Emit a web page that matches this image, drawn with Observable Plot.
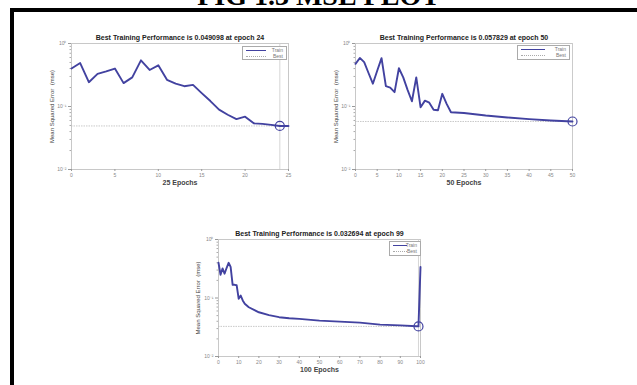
<!DOCTYPE html>
<html><head><meta charset="utf-8">
<script src="https://cdn.jsdelivr.net/npm/d3@7"></script>
<script src="https://cdn.jsdelivr.net/npm/@observablehq/plot@0.6"></script>
<style>
body{margin:0;width:637px;height:385px;overflow:hidden;background:#fff;position:relative;font-family:Arial,"Liberation Sans",sans-serif}
#frame{position:absolute;left:10px;top:8px;width:700px;height:500px;border:4px solid #000;box-sizing:border-box}
#figtitle{position:absolute;left:0;width:637px;text-align:center;top:-18px;font:bold 28px "Liberation Serif",serif;line-height:1;color:#000}
.panel{position:absolute}
.legend{position:absolute;border:1px solid #aaa;background:#fff;font:5px Arial,sans-serif;color:#777;box-sizing:border-box}
.legend div{position:relative;height:6px;line-height:6px;text-align:right;padding-right:3px}
.legend span{position:absolute;left:3px;top:3px;width:22px}
</style></head><body>
<div id="figtitle">FIG 1.3 MSE PLOT</div>
<div id="frame"></div>
<script>
// ---- data ----
const epochs25 = [0,1,2,3,4,5,6,7,8,9,10,11,12,13,14,15,16,17,18,19,20,21,22,23,24,25];
const mse25 = [0.40,0.49,0.243,0.33,0.36,0.40,0.235,0.29,0.54,0.38,0.45,0.265,0.23,0.21,0.22,0.163,0.122,0.089,0.074,0.063,0.069,0.054,0.053,0.051,0.049098,0.049];
const epochs50 = [0,1,2,3,4,5,6,7,8,9,10,11,12,13,14,15,16,17,18,19,20,21,22,25,30,35,40,45,50];
const mse50 = [0.475,0.59,0.505,0.34,0.23,0.37,0.585,0.21,0.20,0.169,0.405,0.29,0.184,0.121,0.29,0.097,0.124,0.115,0.089,0.087,0.159,0.11,0.081,0.079,0.072,0.067,0.063,0.060,0.057829];
const epochs100 = [0,1,2,3,4,5,6,7,8,9,10,11,12,13,15,20,25,30,35,40,50,60,70,80,90,98,99,100];
const mse100 = [0.40,0.25,0.32,0.26,0.325,0.40,0.34,0.168,0.168,0.165,0.097,0.11,0.091,0.08,0.0695,0.057,0.051,0.047,0.045,0.044,0.041,0.0395,0.038,0.035,0.034,0.0328,0.032694,0.34];
const titles = ["Best Training Performance is 0.049098 at epoch 24","Best Training Performance is 0.057829 at epoch 50","Best Training Performance is 0.032694 at epoch 99"];
const xLabels = ["25 Epochs","50 Epochs","100 Epochs"];
const bestEpochs = [24,50,99];
const bestValues = [0.049098,0.057829,0.032694];
const xMax = [25,50,100];
const xTickSteps = [5,5,10];
const yTicks = [0.01,0.1,1];
const yTickLabels = ["10\u207B\u00B2","10\u207B\u00B9","10\u2070"];
const yLabel = "Mean Squared Error  (mse)";
const legendLabels = ["Train","Best"];

const blue = "#4242a0";
const panels = [
  {e:epochs25,v:mse25,left:20,top:25,w:300,h:169,ml:51,mr:32,mt:18,mb:25,yl:-19,leg:{l:242,t:46,w:45,h:14}},
  {e:epochs50,v:mse50,left:320,top:25,w:300,h:169,ml:35,mr:48,mt:18,mb:25,yl:-19,leg:{l:517,t:45,w:53,h:15}},
  {e:epochs100,v:mse100,left:170,top:221,w:300,h:160,ml:48,mr:50,mt:18,mb:25,yl:-20,leg:{l:389,t:241,w:32,h:15}}
];
const minor = [];
for (const d of [0.01,0.1]) for (let k=2;k<=9;k++) minor.push(d*k);

panels.forEach((p,i)=>{
  const data = p.e.map((e,j)=>({epoch:e,mse:p.v[j]}));
  const xt = d3.range(0,xMax[i]+1,xTickSteps[i]);
  const chart = Plot.plot({
    width:p.w,height:p.h,marginLeft:p.ml,marginRight:p.mr,marginTop:p.mt,marginBottom:p.mb,
    style:{background:"transparent",fontFamily:"Arial, sans-serif",fontSize:"5px",color:"#888",overflow:"visible"},
    x:{domain:[0,xMax[i]],label:null},
    y:{type:"log",domain:[0.01,1],label:null},
    marks:[
      Plot.frame({stroke:"#c8c8c8"}),
      Plot.ruleY([bestValues[i]],{stroke:"#bbb",strokeWidth:0.8,strokeDasharray:"1.5,1"}),
      Plot.ruleX([bestEpochs[i]],{stroke:"#ccc",strokeWidth:0.8}),
      Plot.axisX({ticks:xt,tickSize:2,tickPadding:2,tickFormat:d=>String(d),fill:"#888",stroke:"#999"}),
      Plot.axisY({ticks:yTicks,tickSize:3,tickPadding:2,tickFormat:d=>yTickLabels[yTicks.indexOf(d)],fill:"#888",stroke:"#999"}),
      Plot.axisY({ticks:minor,tickSize:1.5,tickFormat:()=>"",stroke:"#aaa"}),
      Plot.line(data,{x:"epoch",y:"mse",stroke:blue,strokeWidth:1.9}),
      Plot.dot([bestValues[i]],{x:()=>bestEpochs[i],y:d=>d,r:4.5,stroke:blue,strokeWidth:1.2,fill:"none"}),
      Plot.text([titles[i]],{frameAnchor:"top",dy:-8,fontWeight:"bold",fontSize:7,fill:"#222"}),
      Plot.text([xLabels[i]],{frameAnchor:"bottom",dy:15,fontWeight:"bold",fontSize:7,fill:"#444"}),
      Plot.text([yLabel],{frameAnchor:"left",textAnchor:"middle",rotate:-90,dx:p.yl,fontSize:6,fill:"#444"})
    ]
  });
  const wrap = document.createElement("div");
  wrap.className="panel";
  wrap.style.left=p.left+"px"; wrap.style.top=p.top+"px";
  wrap.appendChild(chart);
  document.body.appendChild(wrap);

  const lg = document.createElement("div");
  lg.className="legend";
  Object.assign(lg.style,{left:p.leg.l+"px",top:p.leg.t+"px",width:p.leg.w+"px",height:p.leg.h+"px"});
  lg.innerHTML = `<div><span style="border-top:1.5px solid ${blue};width:${Math.round(p.leg.w*0.45)}px"></span>${legendLabels[0]}</div>`+
                 `<div><span style="border-top:1px dotted #aaa;width:${Math.round(p.leg.w*0.45)}px"></span>${legendLabels[1]}</div>`;
  document.body.appendChild(lg);
});
</script>
</body></html>
